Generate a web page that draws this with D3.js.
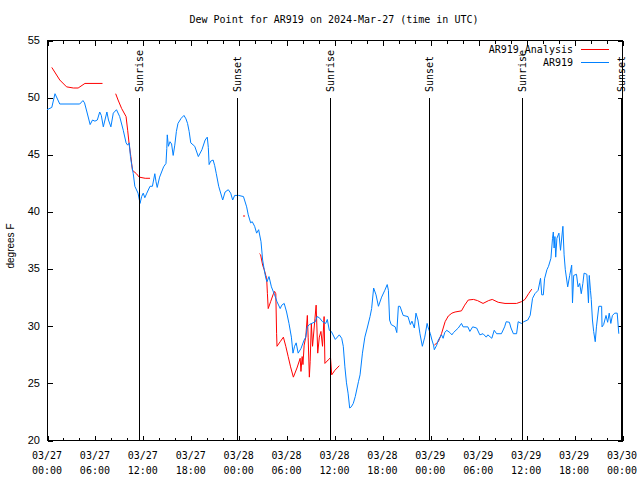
<!DOCTYPE html>
<html><head><meta charset="utf-8">
<script src="https://cdn.jsdelivr.net/npm/d3@7"></script>
<style>
body{margin:0;background:#fff;}
svg{display:block;}
text{font-family:"DejaVu Sans Mono",monospace;font-size:10px;fill:#000;}
</style></head><body>
<svg id="chart" width="640" height="480"></svg>
<script>
// ---- data ----
const title = "Dew Point for AR919 on 2024-Mar-27 (time in UTC)";
const yLabel = "degrees F";
const seriesNames = ["AR919_Analysis", "AR919"];
const startUTC = "2024-03-27T00:00:00Z";
const yTickValues = [20, 25, 30, 35, 40, 45, 50, 55];
// hours after start
const sunHours = [11.56, 23.83, 35.44, 47.87, 59.52, 71.84];
const sunLabels = ["Sunrise", "Sunset", "Sunrise", "Sunset", "Sunrise", "Sunset"];

const obsHours = [0.0,0.6,1.0,1.6,4.1,4.5,4.7,5.0,5.4,5.7,6.0,6.3,6.6,6.8,7.05,7.5,7.7,8.0,8.3,8.7,9.1,9.55,9.9,10.1,10.3,10.45,10.6,10.8,11.0,11.4,11.65,11.85,12.05,12.25,12.5,12.9,13.2,13.5,13.65,13.8,14.1,14.6,14.9,15.0,15.06,15.2,15.4,15.6,15.8,16.0,16.2,16.4,16.8,17.15,17.4,17.6,17.8,18.0,18.5,18.95,19.4,19.8,20.07,20.2,20.3,20.5,20.8,21.0,21.2,21.5,22.0,22.3,22.7,23.0,23.25,23.5,24.0,24.6,25.0,25.2,25.5,25.7,26.0,26.25,26.5,26.8,27.0,27.2,27.4,27.55,27.8,28.1,28.5,28.8,29.2,29.4,29.7,30.0,30.3,30.6,30.8,31.0,31.2,31.45,31.8,32.2,32.4,32.6,32.85,33.6,33.8,34.1,34.5,34.9,35.1,35.35,35.6,36.1,36.6,36.9,37.1,37.3,37.5,37.7,37.9,38.1,38.35,38.6,39.0,39.2,39.5,39.8,40.1,40.45,40.65,40.9,41.2,41.5,41.9,42.3,42.6,42.75,42.9,43.1,43.6,43.8,44.0,44.2,44.6,45.2,45.5,45.7,46.0,46.2,46.45,46.7,47.0,47.3,47.6,47.7,48.0,48.2,48.4,48.5,48.8,49.0,49.4,49.6,49.8,50.05,50.45,50.7,50.9,51.5,51.9,52.1,52.7,52.95,53.3,53.8,54.2,54.6,55.0,55.2,55.7,56.0,56.3,56.9,57.3,57.5,57.9,58.1,58.4,58.8,59.0,59.4,59.7,60.2,60.5,60.8,61.1,61.5,61.8,61.95,62.15,62.3,62.6,62.8,63.1,63.3,63.4,63.5,63.6,63.7,63.85,64.1,64.3,64.6,64.75,64.9,65.2,65.45,65.7,65.8,65.95,66.3,66.5,66.7,66.9,67.1,67.25,67.6,67.8,67.9,68.05,68.15,68.3,68.45,68.65,68.8,69.1,69.45,69.5,69.7,70.0,70.2,70.4,70.6,70.8,71.1,71.4,71.6];
const obsDew = [48.9,49.1,50.3,49.4,49.4,49.7,49.5,48.7,47.6,48.0,47.9,48.0,48.7,48.4,47.4,48.7,48.0,47.4,48.6,48.9,48.3,47.1,46.0,45.8,46.0,44.8,44.1,43.3,42.2,41.6,40.7,41.3,41.6,41.2,41.6,42.2,42.2,43.3,42.6,42.1,43.0,43.9,44.2,45.5,46.7,45.7,46.1,45.9,44.9,45.8,47.0,47.7,48.15,48.4,48.1,47.7,47.0,46.0,45.7,44.8,45.4,46.25,46.5,45.6,44.1,44.4,44.5,44.0,43.3,42.2,41.0,41.7,41.9,41.6,41.0,41.4,41.4,41.3,40.4,39.7,39.0,39.1,38.7,38.1,38.4,37.35,35.75,34.9,34.15,33.85,34.3,33.4,32.7,32.1,31.5,31.8,31.95,31.2,30.2,29.0,27.6,28.2,28.5,27.6,28.0,28.75,29.0,29.9,30.1,30.35,30.8,30.7,30.35,30.2,30.55,29.6,29.5,28.8,29.2,28.9,28.2,26.4,25.0,24.1,22.8,22.9,23.2,23.8,25.1,25.7,27.6,29.0,29.8,30.8,31.5,33.3,32.7,31.7,32.5,33.1,33.6,33.1,30.5,30.1,29.9,29.4,31.7,31.7,30.9,30.8,30.1,30.4,29.8,31.1,30.5,29.3,28.2,29.0,30.2,29.9,29.3,28.75,28.3,27.9,28.3,28.75,29.2,28.9,29.4,29.6,29.4,29.2,29.4,29.8,30.2,29.9,29.9,29.5,29.9,29.8,29.2,29.3,29.0,29.2,28.9,29.6,29.3,29.3,29.9,30.35,30.3,29.8,29.3,29.3,30.35,30.2,30.35,30.5,30.9,32.4,32.8,33.1,34.15,32.7,32.7,34.1,34.9,35.2,35.9,37.65,38.2,36.8,37.8,36.0,37.65,38.1,36.6,38.7,36.2,34.9,33.4,34.4,35.3,32.0,34.4,34.5,33.4,33.7,32.8,33.7,34.6,34.5,32.0,34.4,33.1,32.3,30.5,29.5,28.6,29.9,31.7,31.7,29.9,30.1,30.9,30.3,31.1,30.2,30.9,31.1,31.1,29.3];

// null marks a gap in the analysis series
const anaHours = [0.6,1.6,2.45,3.3,3.9,4.75,6.95,null,8.6,8.9,9.35,9.9,10.1,10.3,10.5,10.7,11.2,11.55,12.3,12.9,null,24.55,24.8,null,26.6,26.75,27.0,27.2,27.4,27.5,27.6,27.7,28.0,28.3,28.5,28.65,28.75,28.8,29.2,29.6,29.9,30.2,30.5,30.85,31.3,31.7,31.8,31.95,32.05,32.2,32.4,32.6,32.7,32.85,32.95,33.1,33.25,33.55,33.7,33.8,33.9,34.1,34.3,34.5,34.7,34.8,35.2,35.5,35.65,36.05,36.6,null,48.5,49.0,49.4,49.85,50.25,50.7,51.1,51.9,52.3,52.75,53.4,53.9,54.6,55.3,55.75,56.5,57.35,58.8,59.4,59.85,60.3,60.7];
const anaDew = [52.6,51.5,50.9,50.8,50.8,51.2,51.2,null,50.3,49.75,49.0,48.3,47.1,45.8,44.8,43.6,43.3,43.0,42.9,42.9,null,39.6,39.6,null,36.3,36.2,35.3,34.9,34.4,34.2,32.8,31.5,32.1,32.7,33.0,32.8,29.3,28.2,28.6,29.0,28.2,27.3,26.4,25.5,26.3,27.15,26.0,27.3,26.6,28.3,29.0,30.9,29.0,25.5,26.85,30.2,28.2,30.6,31.8,29.8,27.6,29.0,29.5,28.2,30.8,26.7,27.0,27.2,25.7,26.1,26.5,null,28.3,28.6,29.3,30.35,30.85,31.1,31.2,31.3,31.8,32.25,32.3,32.2,31.95,32.2,32.3,32.05,31.95,31.95,32.1,32.3,32.8,33.2];

// ---- drawing ----
const L = 47, R = 622, T = 40, B = 440;
const svg = d3.select("#chart");
const t0 = new Date(startUTC);
const toDate = h => new Date(t0.getTime() + h * 3600e3);
const x = d3.scaleUtc().domain([t0, toDate(72)]).range([L, R]);
const y = d3.scaleLinear().domain([20, 55]).range([B, T]);

const colors = ["#ff0000", "#0080ff"];

// frame
svg.append("rect").attr("x", L + 0.5).attr("y", T + 0.5).attr("width", R - L).attr("height", B - T)
  .attr("fill", "none").attr("stroke", "#000").attr("shape-rendering", "crispEdges");

function styleAxis(g) {
  g.select(".domain").remove();
  g.selectAll("line").attr("stroke", "#000").attr("shape-rendering", "crispEdges");
  g.selectAll("text").remove();
}
// x ticks: minor every 2h, major every 6h, bottom and top (inward)
svg.append("g").attr("transform", `translate(0.5,${B + 0.5})`)
  .call(d3.axisBottom(x).ticks(d3.utcHour.every(2)).tickSize(-3)).call(styleAxis);
svg.append("g").attr("transform", `translate(0.5,${B + 0.5})`)
  .call(d3.axisBottom(x).ticks(d3.utcHour.every(6)).tickSize(-5)).call(styleAxis);
svg.append("g").attr("transform", `translate(0.5,${T + 0.5})`)
  .call(d3.axisTop(x).ticks(d3.utcHour.every(2)).tickSize(-3)).call(styleAxis);
svg.append("g").attr("transform", `translate(0.5,${T + 0.5})`)
  .call(d3.axisTop(x).ticks(d3.utcHour.every(6)).tickSize(-5)).call(styleAxis);
// y ticks left & right
svg.append("g").attr("transform", `translate(${L + 0.5},0.5)`)
  .call(d3.axisLeft(y).tickValues(yTickValues).tickSize(-5)).call(styleAxis);
svg.append("g").attr("transform", `translate(${R + 0.5},0.5)`)
  .call(d3.axisRight(y).tickValues(yTickValues).tickSize(-5)).call(styleAxis);

// y tick labels
svg.append("g").selectAll("text").data(yTickValues).join("text")
  .attr("x", 40).attr("y", d => y(d)).attr("dy", "0.35em")
  .attr("text-anchor", "end")
  .style("font-family", "'Liberation Sans',Arial,sans-serif").style("font-size", "11px")
  .text(d => d);

// x tick labels
const fmtD = d3.utcFormat("%m/%d"), fmtT = d3.utcFormat("%H:%M");
const xl = svg.append("g").selectAll("text").data(x.ticks(d3.utcHour.every(6))).join("text")
  .attr("x", d => x(d)).attr("text-anchor", "middle");
xl.append("tspan").attr("x", d => x(d)).attr("y", 459).text(d => fmtD(d));
xl.append("tspan").attr("x", d => x(d)).attr("y", 474).text(d => fmtT(d));

// title and y label
svg.append("text").attr("x", 334).attr("y", 23).attr("text-anchor", "middle").text(title);
svg.append("text").attr("transform", "translate(14,246) rotate(-90)").attr("text-anchor", "middle")
  .style("font-family", "'Liberation Sans',Arial,sans-serif").style("font-size", "10px")
  .text(yLabel);

// data lines
const plot = svg.append("g");
const anaData = anaHours.map((h, i) => ({ h, v: anaDew[i] }));
const obsData = obsHours.map((h, i) => ({ h, v: obsDew[i] }));
const line = d3.line().defined(d => d.h !== null && d.v !== null)
  .x(d => x(toDate(d.h))).y(d => y(d.v));
plot.append("path").datum(anaData).attr("d", line).attr("fill", "none")
  .attr("stroke", colors[0]).attr("stroke-width", 1);
plot.append("path").datum(obsData).attr("d", line).attr("fill", "none")
  .attr("stroke", colors[1]).attr("stroke-width", 1);

// sunrise / sunset lines
const sun = svg.append("g");
sun.selectAll("line").data(sunHours).join("line")
  .attr("x1", d => Math.round(x(toDate(d))) + 0.5).attr("x2", d => Math.round(x(toDate(d))) + 0.5)
  .attr("y1", 98).attr("y2", B).attr("stroke", "#000").attr("shape-rendering", "crispEdges");
sun.selectAll("text").data(sunHours).join("text")
  .attr("transform", d => `translate(${x(toDate(d)) + 4},92) rotate(-90)`)
  .attr("text-anchor", "start")
  .text((d, i) => sunLabels[i]);

// legend
const lg = svg.append("g");
seriesNames.forEach((name, i) => {
  const yy = 49 + i * 13;
  lg.append("text").attr("x", 573).attr("y", yy).attr("dy", "0.35em").attr("text-anchor", "end").text(name);
  lg.append("line").attr("x1", 581).attr("x2", 609).attr("y1", yy + 0.5).attr("y2", yy + 0.5)
    .attr("stroke", colors[i]).attr("stroke-width", 1.2).attr("shape-rendering", "crispEdges");
});
</script>
</body></html>
